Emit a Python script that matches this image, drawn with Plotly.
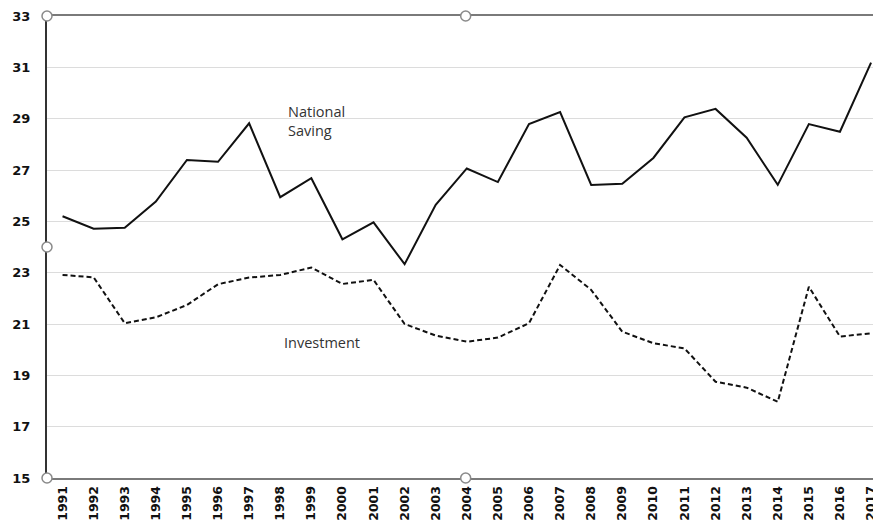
import plotly.graph_objects as go

years = list(range(1991, 2018))
year_labels = [str(y) for y in years]
national_saving = [25.2, 24.71, 24.75, 25.77, 27.39, 27.32, 28.82, 25.94, 26.68, 24.30,
                   24.96, 23.33, 25.64, 27.06, 26.53, 28.79, 29.26, 26.42, 26.46, 27.47,
                   29.05, 29.38, 28.26, 26.42, 28.79, 28.49, 31.18]
investment = [22.91, 22.82, 21.03, 21.26, 21.74, 22.55, 22.81, 22.91, 23.20, 22.56,
              22.72, 21.0, 20.55, 20.31, 20.47, 21.03, 23.30, 22.33, 20.70, 20.25,
              20.05, 18.75, 18.52, 17.97, 22.45, 20.51, 20.64]
y_ticks = [15, 17, 19, 21, 23, 25, 27, 29, 31, 33]

fig = go.Figure()
fig.add_trace(go.Scatter(x=years, y=national_saving, mode="lines",
                         line=dict(color="#111111", width=2), name="National Saving"))
fig.add_trace(go.Scatter(x=years, y=investment, mode="lines",
                         line=dict(color="#111111", width=2, dash="5px,3px"), name="Investment"))

fig.add_annotation(x=1998.2, y=28.91, text="National<br>Saving", showarrow=False,
                   xanchor="left", yanchor="middle", align="left",
                   font=dict(family="Open Sans, Liberation Sans", size=14.5, color="#333333"))
fig.add_annotation(x=1998.05, y=20.26, text="Investment", showarrow=False,
                   xanchor="left", yanchor="middle",
                   font=dict(family="Open Sans, Liberation Sans", size=14.5, color="#333333"))

# selection handles (decorative)
for (px, py) in [(0, 1), (0.502, 1), (0, 0.5), (0, 0), (0.502, 0)]:
    fig.add_shape(type="circle", xref="paper", yref="paper", xsizemode="pixel", ysizemode="pixel",
                  xanchor=px, yanchor=py, x0=-5, x1=5, y0=-5, y1=5,
                  line=dict(color="#8a8a8a", width=1.5), fillcolor="white", layer="above")

fig.update_layout(
    width=873, height=514,
    margin=dict(l=39, r=0, t=8, b=44, autoexpand=False),
    paper_bgcolor="white", plot_bgcolor="white",
    showlegend=False,
    xaxis=dict(range=[1990.5, 2017.32], tickvals=years, ticktext=year_labels,
               tickangle=-90, showgrid=False, zeroline=False, automargin=False,
               showline=True, mirror=True, linecolor="#7a7a7a", linewidth=2,
               ticks="", ticklabelstandoff=1,
               tickfont=dict(family="DejaVu Sans", size=12.5, color="#111111", weight="bold")),
    yaxis=dict(range=[15, 33], tickvals=y_ticks, showgrid=True, gridcolor="#dcdcdc", gridwidth=1,
               zeroline=False, showline=True, linecolor="#333333", linewidth=2, ticks="",
               ticklabelstandoff=12, automargin=False,
               tickfont=dict(family="DejaVu Sans", size=13, color="#111111", weight="bold")),
)

fig.write_html("out.html")
